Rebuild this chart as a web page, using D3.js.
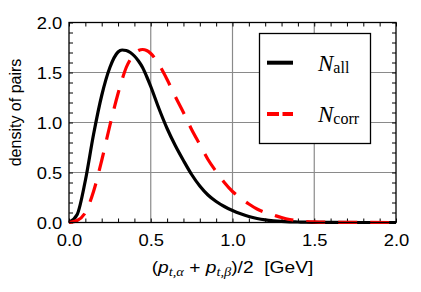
<!DOCTYPE html>
<html>
<head>
<meta charset="utf-8">
<script src="https://cdn.jsdelivr.net/npm/d3@7"></script>
<style>
body{margin:0;background:#fff}
svg{display:block}
</style>
</head>
<body>
<div id="chart"></div>
<script>
// mean pt of the pair, GeV
const ptGrid=[0,0.05,0.1,0.15,0.2,0.25,0.3,0.325,0.35,0.375,0.4,0.425,0.45,0.475,0.5,0.55,0.6,0.65,0.7,0.75,0.8,0.85,0.9,0.95,1.0,
  1.05,1.1,1.15,1.2,1.25,1.3,1.35,1.4,1.45,1.5,1.6,1.8,2.0]
const nAll=[0,0.08,0.42,0.88,1.27,1.55,1.705,1.725,1.72,1.70,1.665,1.615,1.55,1.46,1.36,1.14,0.94,0.77,0.62,0.48,0.365,0.275,0.21,0.16,0.12,
  0.087,0.06,0.04,0.026,0.017,0.011,0.007,0.005,0.003,0.002,0.001,0,0]
const nCorr=[0,0.02,0.10,0.31,0.62,0.97,1.29,1.43,1.55,1.63,1.69,1.72,1.73,1.72,1.69,1.58,1.43,1.26,1.10,0.93,0.78,0.63,0.51,0.40,0.31,
  0.245,0.185,0.135,0.10,0.075,0.05,0.03,0.017,0.01,0.006,0.003,0.001,0]
const xTicks=[0,0.5,1.0,1.5,2.0]
const yTicks=[0,0.5,1.0,1.5,2.0]

const width=421
const height=292
const m={left:69,right:25,top:22.5,bottom:69.5}

const svg=d3.select("#chart")
.append("svg")
.attr("width",width)
.attr("height",height)

const x=d3.scaleLinear().domain([0,2]).range([m.left,width-m.right])
const y=d3.scaleLinear().domain([0,2]).range([height-m.bottom,m.top])

const x0=x(0), x1=x(2), y0=y(0), y1=y(2)

// grid
svg.append("g")
.selectAll("line")
.data(xTicks.slice(1,-1))
.join("line")
.attr("x1",d=>x(d)).attr("x2",d=>x(d))
.attr("y1",y0).attr("y2",y1)
.attr("stroke","#8a8a8a").attr("stroke-width",1.2)

svg.append("g")
.selectAll("line")
.data(yTicks.slice(1,-1))
.join("line")
.attr("x1",x0).attr("x2",x1)
.attr("y1",d=>y(d)).attr("y2",d=>y(d))
.attr("stroke","#8a8a8a").attr("stroke-width",1.2)

// inward ticks on all four sides
const minor=d3.range(0,2.0001,0.1)
function ticks(axisFn,scale,tr,len){
  svg.append("g")
  .attr("transform",tr)
  .call(axisFn(scale).tickValues(minor).tickSize(len).tickFormat(""))
  .call(g=>g.select(".domain").remove())
  .call(g=>g.selectAll("line").attr("stroke","#000").attr("stroke-width",1))
}
ticks(d3.axisTop,x,`translate(0,${y0})`,4)
ticks(d3.axisBottom,x,`translate(0,${y1})`,4)
ticks(d3.axisRight,y,`translate(${x0},0)`,4)
ticks(d3.axisLeft,y,`translate(${x1},0)`,4)

// tick labels
const xAxis=svg.append("g")
.attr("transform",`translate(0,${y0})`)
.call(d3.axisBottom(x).tickValues(xTicks).tickSize(0).tickFormat(d3.format(".1f")))
xAxis.select(".domain").remove()
xAxis.selectAll("text")
.attr("y",24).attr("dy",0)
.attr("transform","scale(1.15,1)")
.style("font-family","'Liberation Sans',Arial,sans-serif")
.style("font-size","16px").attr("fill","#000")

const yAxis=svg.append("g")
.attr("transform",`translate(${x0},0)`)
.call(d3.axisLeft(y).tickValues(yTicks).tickSize(0).tickFormat(d3.format(".1f")))
yAxis.select(".domain").remove()
yAxis.selectAll("text")
.attr("x",-5.8).attr("dy","0.36em")
.attr("transform","scale(1.15,1)")
.style("font-family","'Liberation Sans',Arial,sans-serif")
.style("font-size","16px").attr("fill","#000")

// curves
const line=d3.line()
.x((d,i)=>x(ptGrid[i]))
.y(d=>y(d))
.curve(d3.curveMonotoneX)

svg.append("path")
.datum(nAll)
.attr("d",line)
.attr("fill","none")
.attr("stroke","#000")
.attr("stroke-width",3.2)

svg.append("path")
.datum(nCorr)
.attr("d",line)
.attr("fill","none")
.attr("stroke","#ff0000")
.attr("stroke-width",3.2)
.attr("stroke-dasharray","19,13")

// frame
svg.append("rect")
.attr("x",x0).attr("y",y1)
.attr("width",x1-x0).attr("height",y0-y1)
.attr("fill","none").attr("stroke","#000").attr("stroke-width",1.3)

// legend
const lg=svg.append("g")
lg.append("rect")
.attr("x",259.5).attr("y",33.5).attr("width",111).attr("height",110)
.attr("fill","#fff").attr("stroke","#000").attr("stroke-width",1.3)

lg.append("line")
.attr("x1",267).attr("x2",293).attr("y1",62.7).attr("y2",62.7)
.attr("stroke","#000").attr("stroke-width",4)
lg.append("line")
.attr("x1",267).attr("x2",293).attr("y1",114).attr("y2",114)
.attr("stroke","#ff0000").attr("stroke-width",4)
.attr("stroke-dasharray","12,3.5")

const legendNames=[["all",70.7],["corr",121.7]]
legendNames.forEach(([sub,by])=>{
  const t=lg.append("text")
  .attr("x",318).attr("y",by)
  .style("font-family","'Liberation Serif','Times New Roman',serif")
  .style("font-size","23px")
  t.append("tspan").style("font-style","italic").text("N")
  t.append("tspan").attr("dy",2).style("font-size","16px").text(sub)
})

// axis titles
const xt=svg.append("text")
.attr("transform",`translate(${(x0+x1)/2},273.3) scale(1.2,1)`)
.attr("text-anchor","middle")
.style("font-family","'Liberation Sans',Arial,sans-serif")
.style("font-size","16px")
xt.append("tspan").text("(")
xt.append("tspan").style("font-style","italic").text("p")
xt.append("tspan").attr("dy",3).style("font-family","'Liberation Serif',serif").style("font-style","italic").style("font-size","12px").text("t,α")
xt.append("tspan").attr("dy",-3).text(" + ")
xt.append("tspan").style("font-style","italic").text("p")
xt.append("tspan").attr("dy",3).style("font-family","'Liberation Serif',serif").style("font-style","italic").style("font-size","12px").text("t,β")
xt.append("tspan").attr("dy",-3).text(")/2\u00a0\u00a0[GeV]")

svg.append("text")
.attr("transform","rotate(-90)")
.attr("x",-112.5)
.attr("y",21)
.attr("text-anchor","middle")
.style("font-family","'Liberation Sans',Arial,sans-serif")
.style("font-size","16px")
.text("density of pairs")
</script>
</body>
</html>
